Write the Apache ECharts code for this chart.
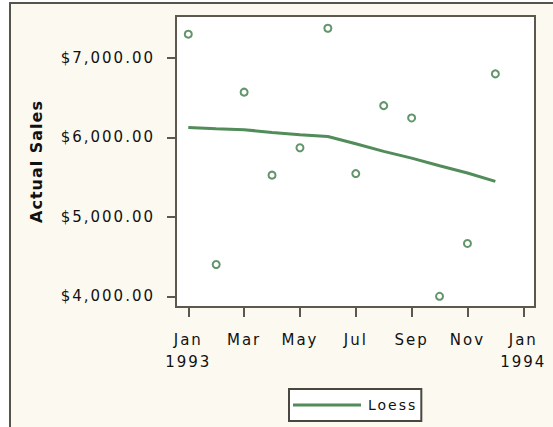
<!DOCTYPE html>
<html lang="en">
<head>
    <meta charset="UTF-8">
    <title>Actual Sales</title>
    <script src="https://cdn.jsdelivr.net/npm/echarts@6/dist/echarts.min.js"></script>
    <style>
        html, body { margin: 0; padding: 0; background: #fff; }
        /* the reference's bitmap font is set wide */
        #chart svg text { letter-spacing: 2px; }
        #chart svg text[style*="bold"] { letter-spacing: 1px; }
    </style>
</head>
<body>
    <div id="chart" style="width: 553px; height: 427px;"></div>
    <script>
        // months counted from Jan 1993 (0) to Dec 1993 (11)
        var months = [0, 1, 2, 3, 4, 5, 6, 7, 8, 9, 10, 11];
        var actualSales = [7300, 4400, 6570, 5525, 5870, 7375, 5545, 6400, 6245, 4000, 4665, 6800];
        var loess = [6126, 6108, 6097, 6063, 6034, 6012, 5920, 5824, 5740, 5643, 5552, 5446];
        var xTicks = [0, 2, 4, 6, 8, 10, 12];
        var xTickLabels = ["Jan\n1993", "Mar", "May", "Jul", "Sep", "Nov", "Jan\n1994"];
        var yTicks = [4000, 5000, 6000, 7000];

        var chart = echarts.init(document.getElementById("chart"), null, { renderer: "svg" });
        var axisColor = "#5c584d";
        var font = "DejaVu Sans";

        var option = {
            backgroundColor: "#fff",
            animation: false,
            graphic: [
                {
                    type: "rect",
                    z: -10,
                    shape: { x: 10, y: 3, width: 560, height: 440 },
                    style: { fill: "#fcf9f1", stroke: "#57544b", lineWidth: 2 }
                }
            ],
            grid: {
                left: 176, top: 16, right: 18, bottom: 120,
                show: true,
                backgroundColor: "#fff",
                borderColor: axisColor,
                borderWidth: 2
            },
            legend: {
                data: ["Loess"],
                left: 289, top: 389,
                icon: "rect",
                padding: [9, 14, 9, 4],
                itemWidth: 68, itemHeight: 3, itemGap: 0,
                borderColor: "#4a473f", borderWidth: 2,
                backgroundColor: "#fff",
                textStyle: { fontFamily: font, fontSize: 14, color: "#111", padding: [0, 0, 0, 2] }
            },
            xAxis: {
                type: "value",
                min: -0.44, max: 12.42,
                axisLine: { show: false, onZero: false },
                splitLine: { show: false },
                axisTick: {
                    show: true, customValues: xTicks, length: 10,
                    lineStyle: { color: axisColor, width: 2 }
                },
                axisLabel: {
                    customValues: xTicks,
                    margin: 22,
                    fontFamily: font, fontSize: 15, color: "#111", lineHeight: 22,
                    formatter: function (v) { return xTickLabels[xTicks.indexOf(v)]; }
                }
            },
            yAxis: {
                type: "value",
                min: 3865, max: 7529,
                name: "Actual Sales",
                nameLocation: "middle",
                nameGap: 132,
                nameRotate: 90,
                nameTextStyle: { fontFamily: font, fontSize: 16, fontWeight: "bold", color: "#111" },
                axisLine: { show: false, onZero: false },
                splitLine: { show: false },
                axisTick: {
                    show: true, customValues: yTicks, length: 9,
                    lineStyle: { color: axisColor, width: 2 }
                },
                axisLabel: {
                    customValues: yTicks,
                    margin: 21,
                    fontFamily: font, fontSize: 15, color: "#111",
                    formatter: function (v) {
                        return "$" + v.toLocaleString("en-US", { minimumFractionDigits: 2, maximumFractionDigits: 2 });
                    }
                }
            },
            series: [
                {
                    name: "Actual Sales",
                    type: "scatter",
                    symbol: "emptyCircle",
                    symbolSize: 7,
                    itemStyle: { color: "#3b7b46", borderWidth: 1.6 },
                    data: months.map(function (m, i) { return [m, actualSales[i]]; })
                },
                {
                    name: "Loess",
                    type: "line",
                    symbol: "none",
                    lineStyle: { color: "#528c5a", width: 3 },
                    itemStyle: { color: "#528c5a" },
                    data: months.map(function (m, i) { return [m, loess[i]]; })
                }
            ]
        };
        chart.setOption(option);
    </script>
</body>
</html>
